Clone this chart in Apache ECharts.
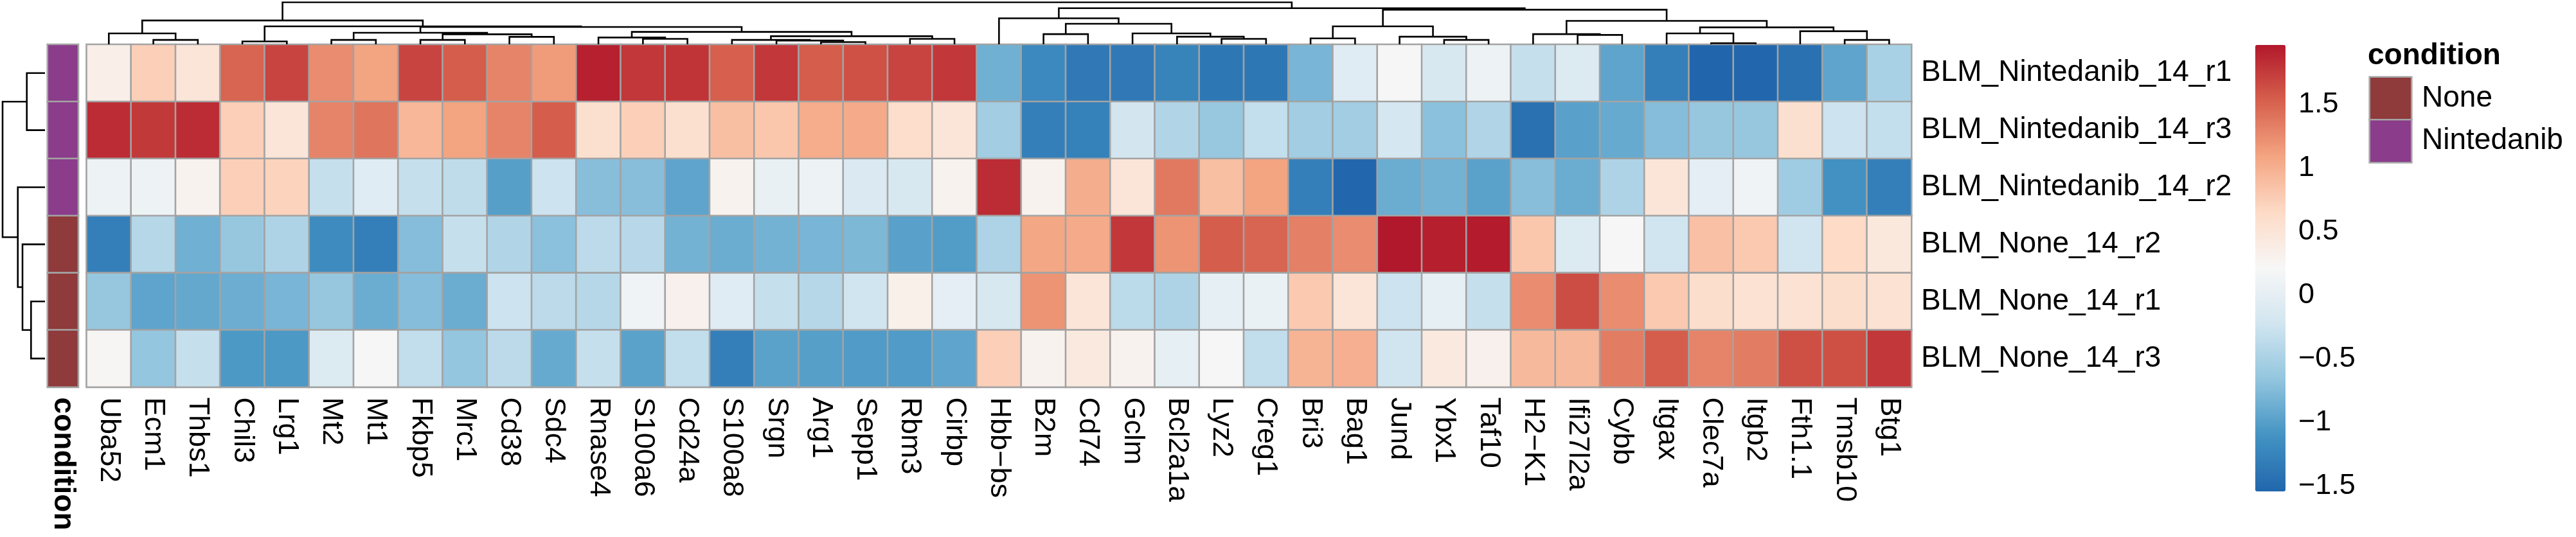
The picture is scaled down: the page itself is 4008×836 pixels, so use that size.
<!DOCTYPE html>
<html><head><meta charset="utf-8">
<script src="https://cdn.jsdelivr.net/npm/echarts@6/dist/echarts.min.js"></script>
<style>html,body{margin:0;padding:0;background:#fff}#c{width:4008px;height:836px}</style>
</head><body><div id="c"></div>
<script>
// ---------- data ----------
const genes = ['Uba52','Ecm1','Thbs1','Chil3','Lrg1','Mt2','Mt1','Fkbp5','Mrc1','Cd38','Sdc4','Rnase4','S100a6','Cd24a','S100a8','Srgn','Arg1','Sepp1','Rbm3','Cirbp','Hbb\u2212bs','B2m','Cd74','Gclm','Bcl2a1a','Lyz2','Creg1','Bri3','Bag1','Jund','Ybx1','Taf10','H2\u2212K1','Ifi27l2a','Cybb','Itgax','Clec7a','Itgb2','Fth1.1','Tmsb10','Btg1'];
const samples = ['BLM_Nintedanib_14_r1','BLM_Nintedanib_14_r3','BLM_Nintedanib_14_r2','BLM_None_14_r2','BLM_None_14_r1','BLM_None_14_r3'];
const sampleCondition = ['Nintedanib','Nintedanib','Nintedanib','None','None','None'];
const conditionLevels = ['None','Nintedanib'];

const z_Nintedanib_r1 = [0.35,0.75,0.5,1.5,1.7,1.25,1.1,1.7,1.55,1.3,1.15,1.92,1.78,1.8,1.53,1.78,1.55,1.62,1.7,1.78,-0.85,-1.2,-1.35,-1.35,-1.25,-1.37,-1.37,-0.8,-0.05,0.2,-0.15,0.1,-0.3,-0.1,-0.95,-1.3,-1.54,-1.53,-1.43,-0.95,-0.5];
const z_Nintedanib_r3 = [1.85,1.77,1.85,0.75,0.5,1.3,1.4,0.95,1.1,1.3,1.55,0.58,0.75,0.58,0.88,0.82,1.03,1.05,0.62,0.5,-0.55,-1.3,-1.28,-0.2,-0.45,-0.62,-0.32,-0.55,-0.55,-0.18,-0.7,-0.45,-1.43,-0.98,-0.9,-0.73,-0.63,-0.63,0.58,-0.25,-0.32];
const z_Nintedanib_r2 = [0.1,0.1,0.3,0.75,0.72,-0.3,-0.05,-0.3,-0.35,-1.0,-0.25,-0.72,-0.72,-0.95,0.3,0.05,0.1,-0.12,-0.14,0.3,1.85,0.3,1.02,0.5,1.37,0.88,1.1,-1.3,-1.53,-0.88,-0.83,-0.97,-0.72,-0.88,-0.47,0.5,0.0,0.12,-0.57,-1.12,-1.3];
const z_None_r2 = [-1.3,-0.42,-0.85,-0.63,-0.47,-1.17,-1.3,-0.73,-0.3,-0.45,-0.7,-0.37,-0.4,-0.83,-0.88,-0.83,-0.8,-0.78,-0.98,-1.02,-0.47,1.08,1.05,1.78,1.2,1.55,1.5,1.33,1.25,1.97,1.93,1.95,0.82,-0.1,0.2,-0.22,0.87,0.8,-0.22,0.65,0.45];
const z_None_r1 = [-0.63,-0.95,-0.92,-0.87,-0.8,-0.63,-0.88,-0.73,-0.88,-0.25,-0.37,-0.42,0.12,0.32,-0.05,-0.3,-0.42,-0.22,0.33,0.0,-0.16,1.2,0.5,-0.38,-0.47,0.02,0.07,0.8,0.5,-0.25,0.02,-0.3,1.25,1.65,1.25,0.8,0.6,0.55,0.55,0.6,0.55];
const z_None_r3 = [0.25,-0.65,-0.3,-1.05,-1.05,-0.1,0.2,-0.33,-0.65,-0.37,-0.9,-0.3,-0.97,-0.33,-1.3,-0.97,-1.0,-1.03,-1.03,-0.95,0.75,0.3,0.43,0.3,0.02,0.2,-0.33,0.97,1.0,-0.22,0.43,0.32,0.93,0.93,1.35,1.55,1.3,1.35,1.63,1.63,1.78];
const sampleValues = [z_Nintedanib_r1, z_Nintedanib_r3, z_Nintedanib_r2, z_None_r2, z_None_r1, z_None_r3];

const colorMin = -1.54, colorMax = 1.97;
const colorTicks = [-1.5, -1, -0.5, 0, 0.5, 1, 1.5];

// dendrograms: [left, right, height]; left/right = leaf name or index of an earlier merge
const colMerges = [
  ['Ecm1','Thbs1',6.8], ['Uba52',0,16.8], ['Chil3','Lrg1',4.5], ['Mt2','Mt1',6.8],
  ['Fkbp5','Mrc1',6.8], ['Cd38','Sdc4',11.5], [4,5,15.5], [3,6,17.8],
  ['S100a6','Cd24a',8.5], ['Rnase4',8,10.5], ['Arg1','Sepp1',3.5], ['Srgn',10,5.8],
  ['S100a8',11,6.8], ['Rbm3','Cirbp',8.5], [12,13,12.5], [9,14,19.2],
  [7,15,26.8], [2,16,27.8], [1,17,36.8],
  ['B2m','Cd74',15.8], ['Lyz2','Creg1',8.5], ['Bcl2a1a',20,11.8], ['Gclm',21,16.8],
  [19,22,31.8], ['Hbb\u2212bs',23,40.2],
  ['Bri3','Bag1',9.2], ['Ybx1','Taf10',6.8], ['Jund',26,11.8], [25,27,27.8],
  ['Ifi27l2a','Cybb',14.5], ['H2\u2212K1',29,15.8], ['Clec7a','Itgb2',1.8], ['Itgax',31,16.8],
  ['Tmsb10','Btg1',6.8], ['Fth1.1',33,20.2], [32,34,26.2], [30,35,36.2],
  [28,36,53.5], [24,37,55.8], [18,38,65]
];
const rowMerges = [
  ['BLM_Nintedanib_14_r1','BLM_Nintedanib_14_r3',28.3],
  ['BLM_None_14_r1','BLM_None_14_r3',21.7],
  ['BLM_None_14_r2',1,35],
  ['BLM_Nintedanib_14_r2',2,42.3],
  [0,3,66]
];

// ---------- build ----------
function dendroSegments(merges, leaves, swap) {
  const nodes = [];
  const get = k => typeof k === 'number' ? nodes[k] : { pos: leaves.indexOf(k), h: 0 };
  return merges.map(([a, b, h]) => {
    const A = get(a), B = get(b);
    nodes.push({ pos: (A.pos + B.pos) / 2, h: h });
    let pts = [[A.pos, A.h], [A.pos, h], [B.pos, h], [B.pos, B.h]];
    if (swap) pts = pts.map(p => [p[1], p[0]]);
    return { coords: pts };
  });
}
const heatData = [];
sampleValues.forEach((arr, r) => arr.forEach((v, c) => heatData.push([c, r, v])));
const annData = sampleCondition.map((s, r) => [0, r, conditionLevels.indexOf(s)]);
const legendData = conditionLevels.map((s, i) => [0, i, i]);

const FONT = 'Liberation Sans, Arial, Helvetica, sans-serif';
const BORDER = '#A3A3A3';
const L = 134.7, T = 69.3, W = 2839.3, H = 533.3;
const hid = { show: false };
const minus = v => (v < 0 ? '\u2212' + Math.abs(v) : String(v));

const chart = echarts.init(document.getElementById('c'), null, { renderer: 'canvas' });
chart.setOption({
  animation: false,
  backgroundColor: '#ffffff',
  title: { text: 'condition', left: 3684, top: 64, padding: 0,
    textStyle: { fontFamily: FONT, fontSize: 46, fontWeight: 'bold', color: '#000' } },
  grid: [
    { left: L, top: T, width: W, height: H },
    { left: 74, top: T, width: 47.7, height: H },
    { left: L, top: 3.5, width: W, height: 65.5 },
    { left: 4, top: T, width: 66, height: H },
    { left: 3509, top: 70, width: 47, height: 695 },
    { left: 3687, top: 120, width: 65, height: 133 }
  ],
  xAxis: [
    { type: 'category', gridIndex: 0, data: genes, position: 'bottom',
      axisLine: hid, axisTick: hid, splitLine: hid,
      axisLabel: { rotate: -90, margin: 16, fontSize: 45, fontFamily: FONT, color: '#000', interval: 0 } },
    { type: 'category', gridIndex: 1, data: ['condition'], axisLine: hid, axisTick: hid,
      axisLabel: { rotate: -90, margin: 16, fontSize: 46, fontWeight: 'bold', fontFamily: FONT, color: '#000' } },
    { type: 'value', gridIndex: 2, min: -0.5, max: genes.length - 0.5, show: false },
    { type: 'value', gridIndex: 3, min: 0, max: 66, inverse: true, show: false },
    { type: 'value', gridIndex: 4, min: 0, max: 1, show: false },
    { type: 'category', gridIndex: 5, data: ['key'], show: false }
  ],
  yAxis: [
    { type: 'category', gridIndex: 0, data: samples, inverse: true, position: 'right',
      axisLine: hid, axisTick: hid, splitLine: hid,
      axisLabel: { margin: 15, fontSize: 46, fontFamily: FONT, color: '#000', interval: 0 } },
    { type: 'category', gridIndex: 1, data: samples, inverse: true, show: false },
    { type: 'value', gridIndex: 2, min: 0, max: 65, show: false },
    { type: 'value', gridIndex: 3, min: -0.5, max: samples.length - 0.5, inverse: true, show: false },
    { type: 'value', gridIndex: 4, min: colorMin, max: colorMax, position: 'right',
      axisLine: hid, axisTick: hid, splitLine: hid,
      axisLabel: { customValues: colorTicks, formatter: minus, margin: 20, fontSize: 45,
        fontFamily: FONT, color: '#000' } },
    { type: 'category', gridIndex: 5, data: conditionLevels, inverse: true, position: 'right',
      axisLine: hid, axisTick: hid,
      axisLabel: { margin: 16, fontSize: 46, fontFamily: FONT, color: '#000' } }
  ],
  visualMap: [
    { type: 'continuous', seriesIndex: 0, min: colorMin, max: colorMax, calculable: false,
      left: 3509, top: 70, itemWidth: 47, itemHeight: 695, padding: 0, text: null,
      showLabel: false, hoverLink: false,
      inRange: { color: ['#2166AC','#4393C3','#92C5DE','#D1E5F0','#F7F7F7','#FDDBC7','#F4A582','#D6604D','#B2182B'] } },
    { type: 'piecewise', seriesIndex: [1, 4], show: false,
      pieces: [{ value: 0, color: '#8F3A3B' }, { value: 1, color: '#8B3C8B' }] }
  ],
  series: [
    { type: 'heatmap', xAxisIndex: 0, yAxisIndex: 0, data: heatData, silent: true,
      itemStyle: { borderColor: BORDER, borderWidth: 2.6 } },
    { type: 'heatmap', xAxisIndex: 1, yAxisIndex: 1, data: annData, silent: true,
      itemStyle: { borderColor: BORDER, borderWidth: 2.6 } },
    { type: 'lines', coordinateSystem: 'cartesian2d', xAxisIndex: 2, yAxisIndex: 2, polyline: true,
      silent: true, data: dendroSegments(colMerges, genes, false),
      lineStyle: { color: '#000', width: 2.6, opacity: 1 } },
    { type: 'lines', coordinateSystem: 'cartesian2d', xAxisIndex: 3, yAxisIndex: 3, polyline: true,
      silent: true, data: dendroSegments(rowMerges, samples, true),
      lineStyle: { color: '#000', width: 2.6, opacity: 1 } },
    { type: 'heatmap', xAxisIndex: 5, yAxisIndex: 5, data: legendData, silent: true,
      itemStyle: { borderColor: BORDER, borderWidth: 2.6 } }
  ]
});
</script></body></html>
